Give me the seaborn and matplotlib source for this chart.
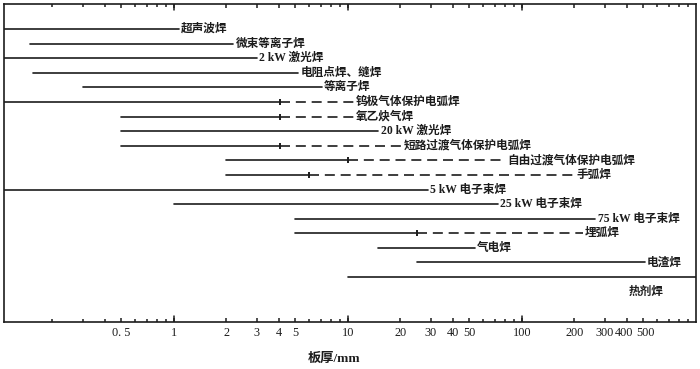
import numpy as np
import pandas as pd
import matplotlib
matplotlib.use('Agg')
import matplotlib.pyplot as plt
import matplotlib.transforms as mtransforms
from matplotlib.ticker import FixedLocator, NullFormatter
import seaborn as sns

# process names (top to bottom)
names = ['超声波焊', '微束等离子焊', '2 kW 激光焊', '电阻点焊、缝焊', '等离子焊',
         '钨极气体保护电弧焊', '氧乙炔气焊', '20 kW 激光焊', '短路过渡气体保护电弧焊',
         '自由过渡气体保护电弧焊', '手弧焊', '5 kW 电子束焊', '25 kW 电子束焊',
         '75 kW 电子束焊', '埋弧焊', '气电焊', '电渣焊', '热剂焊']
# thickness range in mm: solid part from start to mid, dashed part from mid to dash_end
start = [0.105, 0.15, 0.105, 0.155, 0.3, 0.105, 0.5, 0.5, 0.5,
         2, 2, 0.105, 1, 5, 5, 15, 25, 10]
mid = [1.07, 2.2, 3, 5.2, 7.1, 4.1, 4.1, 15, 4.1,
       10, 6, 29, 73, 265, 25, 54, 510, 1000]
dash_end = [None, None, None, None, None, 10.8, 10.8, None, 20.5,
            80, 200, None, None, None, 224, None, None, None]

xtick_vals = [0.5, 1, 2, 3, 4, 5, 10, 20, 30, 40, 50, 100, 200, 300, 400, 500]
xtick_labels = ['0. 5', '1', '2', '3', '4', '5', '10', '20', '30', '40', '50',
                '100', '200', '300', '400', '500']

ink = '#1c1c1c'
sns.set_style('white')
plt.rcParams['font.family'] = ['Liberation Serif', 'Noto Sans CJK SC', 'DejaVu Sans']

rows = list(range(len(names)))
solid = pd.DataFrame({'x': start + mid, 'y': rows + rows, 'row': rows + rows})
dash_idx = [i for i in rows if dash_end[i] is not None]
dashed = pd.DataFrame({'x': [mid[i] for i in dash_idx] + [dash_end[i] for i in dash_idx],
                       'y': dash_idx + dash_idx, 'row': dash_idx + dash_idx})
cross = pd.DataFrame({'x': [mid[i] for i in dash_idx], 'y': dash_idx})

fig = plt.figure(figsize=(7, 3.69), dpi=100)
ax = fig.add_axes([0.005, 0.1274, 0.989, 0.8616])

sns.lineplot(data=solid, x='x', y='y', units='row', estimator=None, sort=False,
             color=ink, lw=1.2, ax=ax)
sns.lineplot(data=dashed, x='x', y='y', units='row', estimator=None, sort=False,
             color=ink, lw=1.2, linestyle=(0, (6, 3.5)), ax=ax)
sns.scatterplot(data=cross, x='x', y='y', marker='|', s=22, color=ink,
                linewidth=1.4, ax=ax)

ax.set_xscale('log')
ax.set_xlim(0.105, 1000)
ax.set_ylim(20.08, -1.71)

# labels after the line ends
for i, name in enumerate(names):
    if i == len(names) - 1:
        ax.text(412, i + 1.03, name, ha='left', va='center', fontsize=8.4,
                fontweight='bold', color=ink)
        continue
    xe = dash_end[i] if dash_end[i] is not None else mid[i]
    ax.annotate(name, (xe, i), xytext=(1.5, 0), textcoords='offset points',
                ha='left', va='center', fontsize=8.4, fontweight='bold', color=ink)

# ticks
minor = [v * 10.0 ** k for k in (-1, 0, 1, 2) for v in range(2, 10)]
ax.set_xticks(xtick_vals, xtick_labels)
ax.xaxis.set_minor_locator(FixedLocator([m for m in minor if not any(abs(m - t) < 1e-9 for t in xtick_vals)]))
ax.xaxis.set_minor_formatter(NullFormatter())
ax.tick_params(axis='x', which='both', direction='in', top=True, bottom=True,
               width=1.1, color=ink, labelsize=8.8, pad=3.5, labelcolor=ink)
ax.tick_params(axis='x', which='major', length=3.0)
ax.tick_params(axis='x', which='minor', length=2.2)
# decades get taller ticks
for v in [1, 10, 100]:
    ax.plot([v, v], [20.08, 19.7], color=ink, lw=1.1)
    ax.plot([v, v], [-1.71, -1.33], color=ink, lw=1.1)
# spread the crowded 400 / 500 labels a little
for lab in ax.get_xticklabels():
    if lab.get_text() == '400':
        lab.set_transform(lab.get_transform() + mtransforms.ScaledTranslation(-3 / 100, 0, fig.dpi_scale_trans))
    if lab.get_text() == '500':
        lab.set_transform(lab.get_transform() + mtransforms.ScaledTranslation(2 / 100, 0, fig.dpi_scale_trans))
ax.set_yticks([])
ax.set_ylabel('')

ax.set_xlabel('板厚/mm', fontsize=9.5, fontweight='bold', color=ink)
ax.xaxis.set_label_coords(0.477, -0.116)
ax.xaxis.label.set_va('center')

for s in ax.spines.values():
    s.set_linewidth(1.2)
    s.set_color(ink)

fig.savefig('out.png', dpi=100)
